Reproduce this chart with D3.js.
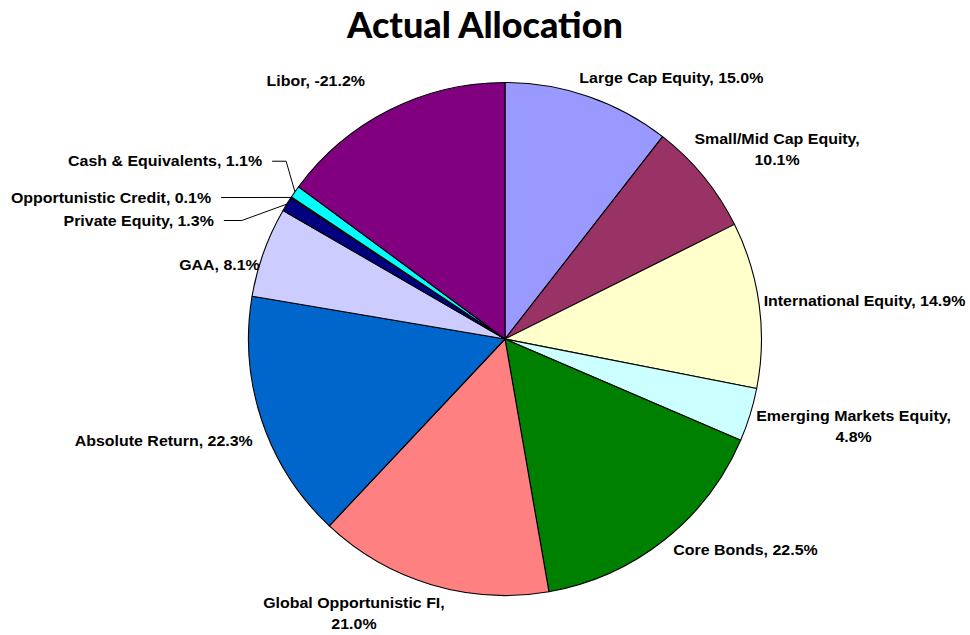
<!DOCTYPE html>
<html>
<head>
<meta charset="utf-8">
<script src="https://cdn.jsdelivr.net/npm/d3@7/dist/d3.min.js"></script>
<style>
  html, body { margin: 0; padding: 0; background: #fff; }
  svg { display: block; }
  .lbl { font-family: "Liberation Sans", Arial, sans-serif; font-weight: bold; font-size: 14.5px; fill: #000; }
  .title { font-family: Lato, "Open Sans", sans-serif; font-weight: 900; font-size: 36px; fill: #000; }
</style>
</head>
<body>
<script>
// Allocation by asset class (percent); Libor is a negative allocation, sized by magnitude
const categories = [
  "Large Cap Equity", "Small/Mid Cap Equity", "International Equity",
  "Emerging Markets Equity", "Core Bonds", "Global Opportunistic FI",
  "Absolute Return", "GAA", "Private Equity", "Opportunistic Credit",
  "Cash & Equivalents", "Libor"
];
const values = [15.0, 10.1, 14.9, 4.8, 22.5, 21.0, 22.3, 8.1, 1.3, 0.1, 1.1, -21.2];
const colors = [
  "#9999FF", "#993366", "#FFFFCC", "#CCFFFF", "#008000", "#FF8080",
  "#0066CC", "#CCCCFF", "#000080", "#FFFF00", "#00FFFF", "#800080"
];

// Label placement relative to the slice's outer edge at its mid-angle
// dx, dy: offset of the label anchor; wrap: break after the comma;
// anchor: text-anchor; elbow: horizontal run of a leader line (null = no leader)
const labelLayout = [
  { dx: 83,    dy: -13.3, anchor: "middle", wrap: false, elbow: null },
  { dx: 73.6,  dy: -32.9, anchor: "middle", wrap: true,  elbow: null },
  { dx: 105.3, dy: 1.2,   anchor: "middle", wrap: false, elbow: null },
  { dx: 103.5, dy: 5.8,   anchor: "middle", wrap: true,  elbow: null },
  { dx: 81.5,  dy: 15,    anchor: "middle", wrap: false, elbow: null },
  { dx: -77.4, dy: 23.1,  anchor: "middle", wrap: true,  elbow: null },
  { dx: -98.1, dy: 25.7,  anchor: "middle", wrap: false, elbow: null },
  { dx: -44.3, dy: 17.6,  anchor: "middle", wrap: false, elbow: null },
  { dx: -73,   dy: 21.4,  anchor: "end",    wrap: false, elbow: 18 },
  { dx: -80,   dy: 5.1,   anchor: "end",    wrap: false, elbow: 0 },
  { dx: -32.8, dy: -25.6, anchor: "end",    wrap: false, elbow: 14 },
  { dx: -73.6, dy: -23.6, anchor: "middle", wrap: false, elbow: null }
];

const width = 970, height = 635;
const cx = 505, cy = 339, radius = 256.5;
const labelStretch = 1.1;   // wide label lettering

const svg = d3.select("body").append("svg")
  .attr("width", width).attr("height", height);

svg.append("text")
  .attr("class", "title")
  .attr("x", 485).attr("y", 37.5)
  .attr("text-anchor", "middle")
  .text("Actual Allocation");

const data = categories.map((c, i) => ({ name: c, value: values[i], color: colors[i], layout: labelLayout[i] }));

const pie = d3.pie().value(d => Math.abs(d.value)).sort(null);
const arc = d3.arc().innerRadius(0).outerRadius(radius);
const arcs = pie(data);

const g = svg.append("g").attr("transform", `translate(${cx},${cy})`);

g.selectAll("path.slice")
  .data(arcs)
  .join("path")
  .attr("class", "slice")
  .attr("d", arc)
  .attr("fill", d => d.data.color)
  .attr("stroke", "#000")
  .attr("stroke-width", 1.1)
  .attr("stroke-linejoin", "round");

function edgePoint(d) {
  const a = (d.startAngle + d.endAngle) / 2;
  return [radius * Math.sin(a), -radius * Math.cos(a)];
}

const lineGap = 21;

arcs.forEach(d => {
  const L = d.data.layout;
  const [px, py] = edgePoint(d);
  const x = px + L.dx, y = py + L.dy;
  const label = `${d.data.name}, ${d.data.value.toFixed(1)}%`;
  const t = g.append("text")
    .attr("class", "lbl")
    .attr("text-anchor", L.anchor)
    .attr("transform", `translate(${x},${y}) scale(${labelStretch},1)`);
  if (L.wrap) {
    const parts = [`${d.data.name},`, `${d.data.value.toFixed(1)}%`];
    parts.forEach((p, i) => {
      t.append("tspan").attr("x", 0).attr("y", i * lineGap).text(p);
    });
  } else {
    t.text(label);
  }
  if (L.elbow !== null) {
    const sx = x + 10, sy = y - 5;
    const pts = [[sx, sy], [sx + L.elbow, sy], [px, py]];
    g.append("path")
      .attr("d", d3.line()(pts))
      .attr("fill", "none")
      .attr("stroke", "#000")
      .attr("stroke-width", 1);
  }
});
</script>
</body>
</html>
